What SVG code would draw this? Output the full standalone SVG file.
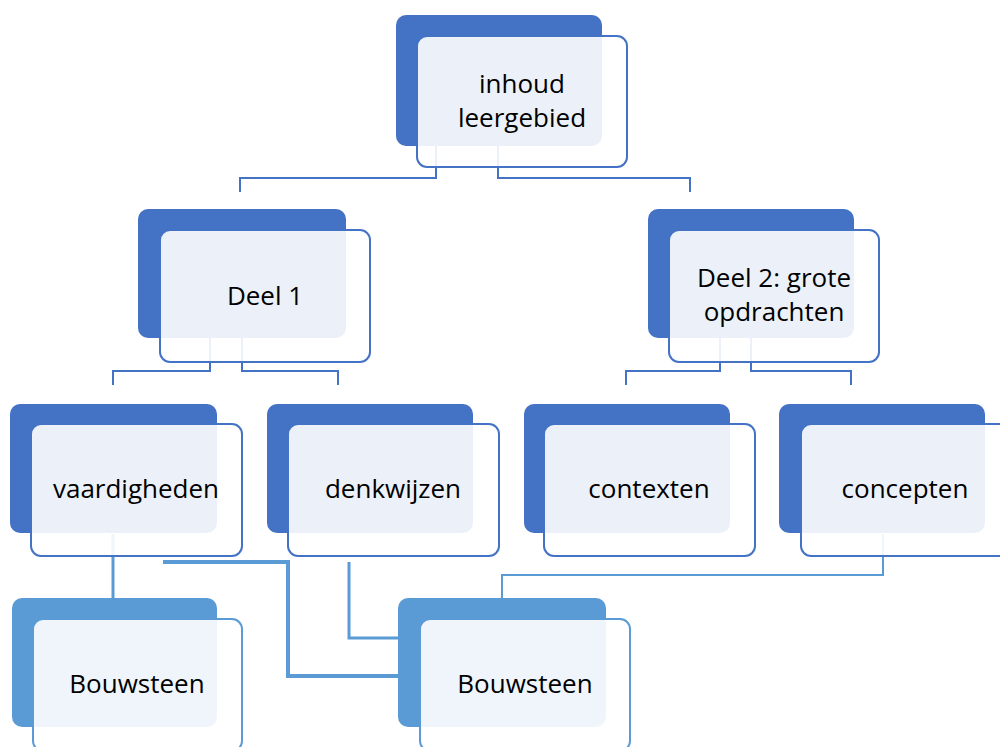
<svg xmlns="http://www.w3.org/2000/svg" width="1000" height="747" viewBox="0 0 1000 747">
<style>
.dk{fill:#4472C4}
.dk2{fill:#5B9BD5}
.lt{fill:#fff;fill-opacity:.9;stroke:#4472C4;stroke-width:2}
.lt2{fill:#fff;fill-opacity:.9;stroke:#5B9BD5;stroke-width:2}
.t{font-family:"Open Sans","Noto Sans",sans-serif;font-size:26px;fill:#000;text-anchor:middle}
.c{fill:none;stroke:#4472C4;stroke-width:2}
.c2{fill:none;stroke:#5B9BD5}
</style>
<rect width="1000" height="747" fill="#fff"/>
<g id="connectors">
<path class="c" d="M436 146V178H240V192"/>
<path class="c" d="M498 146V178H690V192"/>
<path class="c" d="M210 338V371H113V385"/>
<path class="c" d="M242 338V371H338V385"/>
<path class="c" d="M720 338V371H626V385"/>
<path class="c" d="M751 338V371H851V385"/>
<path class="c2" d="M113 534V598" stroke="#3F7DC2" stroke-width="3"/>
<path class="c2" d="M163 562H288V676H398" stroke-width="4"/>
<path class="c2" d="M349 562V638H398" stroke-width="3"/>
<path class="c2" d="M883 534V575H502V598" stroke-width="2"/>
</g>
<g id="n-inhoud">
<rect class="dk" x="396" y="15" width="206" height="131" rx="10"/>
<rect class="lt" x="417" y="36" width="210" height="131" rx="10"/>
<text class="t" x="522" y="93">inhoud</text>
<text class="t" x="522" y="127">leergebied</text>
</g>
<g id="n-deel1">
<rect class="dk" x="138" y="209" width="208" height="129" rx="10"/>
<rect class="lt" x="160" y="230" width="210" height="132" rx="10"/>
<text class="t" x="265" y="305">Deel 1</text>
</g>
<g id="n-deel2">
<rect class="dk" x="648" y="209" width="206" height="129" rx="10"/>
<rect class="lt" x="669" y="230" width="210" height="132" rx="10"/>
<text class="t" x="774" y="287">Deel 2: grote</text>
<text class="t" x="774" y="321">opdrachten</text>
</g>
<g id="n-vaardigheden">
<rect class="dk" x="10" y="404" width="207" height="129" rx="10"/>
<rect class="lt" x="31" y="424" width="211" height="132" rx="10"/>
<text class="t" x="136" y="498">vaardigheden</text>
</g>
<g id="n-denkwijzen">
<rect class="dk" x="267" y="404" width="206" height="129" rx="10"/>
<rect class="lt" x="288" y="424" width="211" height="132" rx="10"/>
<text class="t" x="393" y="498">denkwijzen</text>
</g>
<g id="n-contexten">
<rect class="dk" x="524" y="404" width="206" height="129" rx="10"/>
<rect class="lt" x="544" y="424" width="211" height="132" rx="10"/>
<text class="t" x="649" y="498">contexten</text>
</g>
<g id="n-concepten">
<rect class="dk" x="779" y="404" width="206" height="129" rx="10"/>
<rect class="lt" x="801" y="424" width="211" height="132" rx="10"/>
<text class="t" x="905" y="498">concepten</text>
</g>
<g id="n-bouwsteen1">
<rect class="dk2" x="12" y="598" width="205" height="129" rx="10"/>
<rect class="lt2" x="33" y="619" width="209" height="132" rx="10"/>
<text class="t" x="137" y="693">Bouwsteen</text>
</g>
<g id="n-bouwsteen2">
<rect class="dk2" x="398" y="598" width="208" height="129" rx="10"/>
<rect class="lt2" x="420" y="619" width="210" height="132" rx="10"/>
<text class="t" x="525" y="693">Bouwsteen</text>
</g>
</svg>
